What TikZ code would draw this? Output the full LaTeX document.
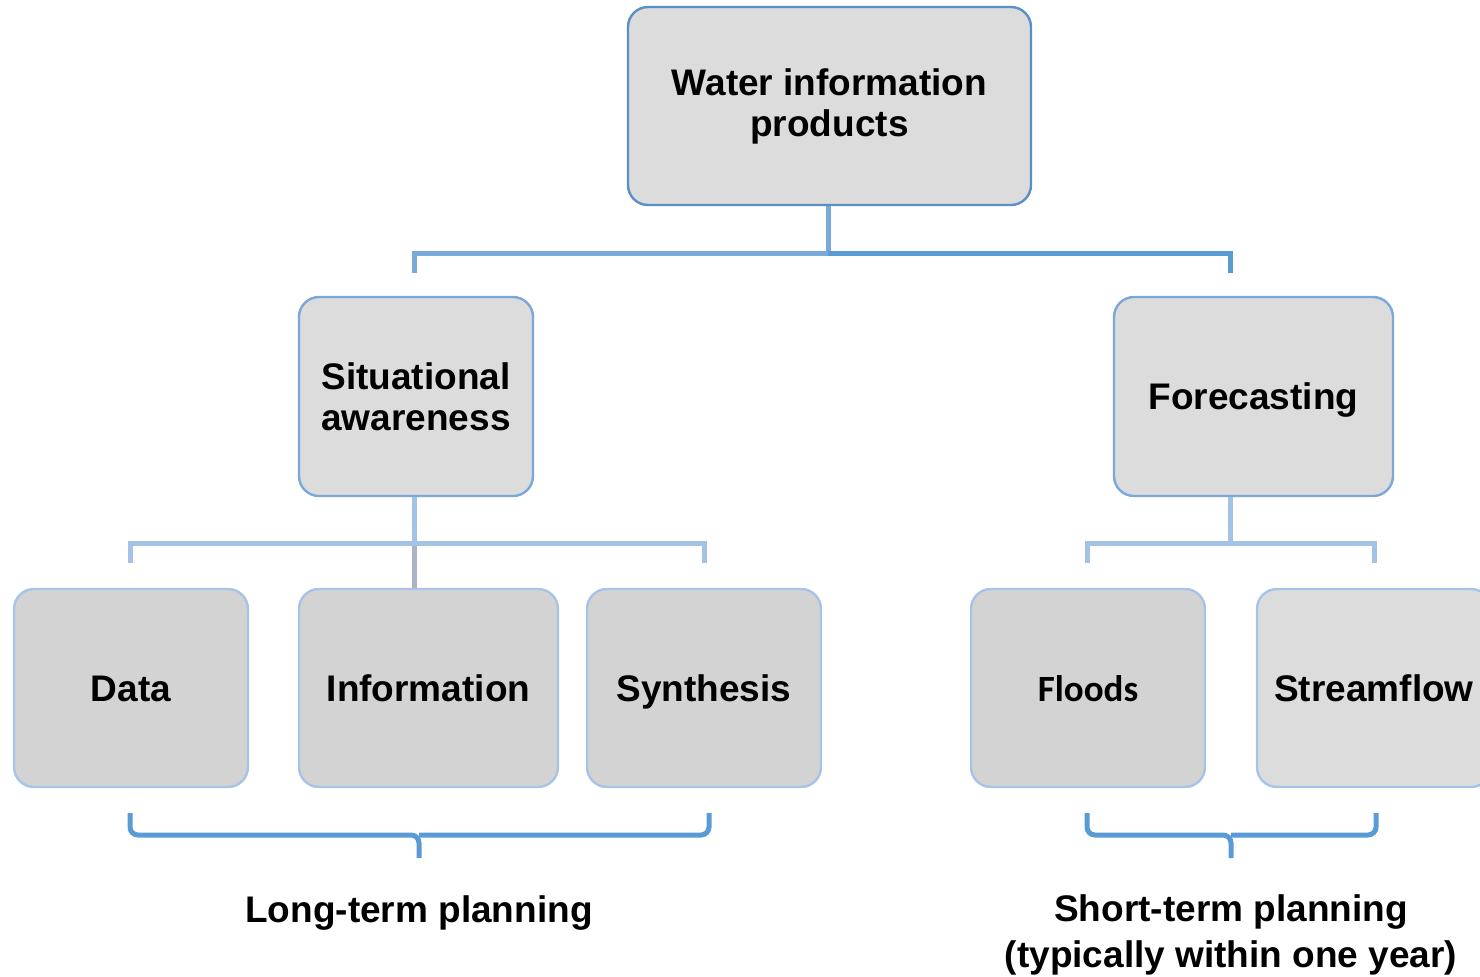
\documentclass[tikz,border=0pt]{standalone}
\usepackage{fontspec}
\setmainfont{Liberation Sans}
\newfontfamily\floodfont{Carlito}
\usetikzlibrary{positioning}
\definecolor{topline}{RGB}{91,143,200}
\definecolor{midline}{RGB}{123,167,218}
\definecolor{lowline}{RGB}{166,196,230}
\definecolor{boxfill}{RGB}{220,220,220}
\definecolor{lowfill}{RGB}{212,211,212}
\definecolor{linkA}{RGB}{122,170,220}
\definecolor{linkB}{RGB}{91,155,213}
\definecolor{linkC}{RGB}{164,194,230}
\definecolor{linkD}{RGB}{170,178,196}

\begin{document}
\begin{tikzpicture}[x=0.5pt,y=-0.5pt,
    box/.style={draw, fill=boxfill, rounded corners=10pt, line width=1.2pt,
      align=center, inner sep=0pt,
      font=\bfseries\fontsize{18.5}{20.5}\selectfont},
    oneline/.style={text height=13.3pt, text depth=0pt},
    topbox/.style={box, draw=topline, minimum width=201.5pt, minimum height=99pt},
    midbox/.style={box, draw=midline, minimum height=99.5pt},
    lowbox/.style={box, oneline, draw=lowline, fill=lowfill, minimum width=117pt, minimum height=99pt},
    link/.style={line width=2.5pt},
    brace/.style={draw=linkB, line width=2.5pt, rounded corners=4pt},
    tag/.style={align=center, inner sep=0pt, font=\bfseries\fontsize{18.5}{23}\selectfont}]
    \useasboundingbox (0,0) rectangle (1480,976);

    % boxes
    \node[topbox] (top) at (829.5,106) {Water information\\products};
    \node[midbox, minimum width=117pt] (sit) at (416,396.5) {Situational\\awareness};
    \node[midbox, oneline, minimum width=139.5pt] (fore) at (1253.5,396.5) {Forecasting};
    \node[lowbox] (data) at (131,688) {Data};
    \node[lowbox, minimum width=129.5pt] (info) at (428.5,688) {Information};
    \node[lowbox] (synth) at (704,688) {Synthesis};
    \node[lowbox, font=\floodfont\bfseries\fontsize{18.5}{20.5}\selectfont] (flood) at (1088,688) {Floods};
    \node[lowbox, fill=boxfill] (stream) at (1374,688) {Streamflow};

    % junctions
    \coordinate (j_1) at (828,253);
    \coordinate (t_1) at (414,273);
    \coordinate (t_2) at (1230,273);
    \coordinate (j_2) at (414,543);
    \coordinate (t_3) at (130,563);
    \coordinate (t_4) at (704,563);
    \coordinate (j_3) at (1230,543);
    \coordinate (t_5) at (1087,563);
    \coordinate (t_6) at (1374,563);

    \draw[link, linkA] (top.south -| j_1) -- (j_1) -| (t_1);
    \draw[link, linkB] (j_1) -| (t_2);
    \draw[link, linkD] (j_2) -- (info.north -| j_2);
    \draw[link, linkC] (sit.south -| j_2) -- (j_2);
    \draw[link, linkC] (t_3) |- (j_2) -| (t_4);
    \draw[link, linkC] (fore.south -| j_3) -- (j_3);
    \draw[link, linkC] (t_5) |- (j_3) -| (t_6);

    % braces
    \coordinate (b_1) at (419,858);
    \coordinate (b_2) at (1231,858);
    \draw[brace] (130,813) -- (130,835) -- (419,835) -- (b_1);
    \draw[brace] (709,813) -- (709,835) -- (419,835);
    \draw[brace] (1087,813) -- (1087,835) -- (1231,835) -- (b_2);
    \draw[brace] (1376,813) -- (1376,835) -- (1231,835);

    \node[tag, oneline] (long) at (419,909) {Long-term planning};
    \node[tag] (short) at (1231,935) {Short-term planning\\(typically within one year)};
\end{tikzpicture}
\end{document}
